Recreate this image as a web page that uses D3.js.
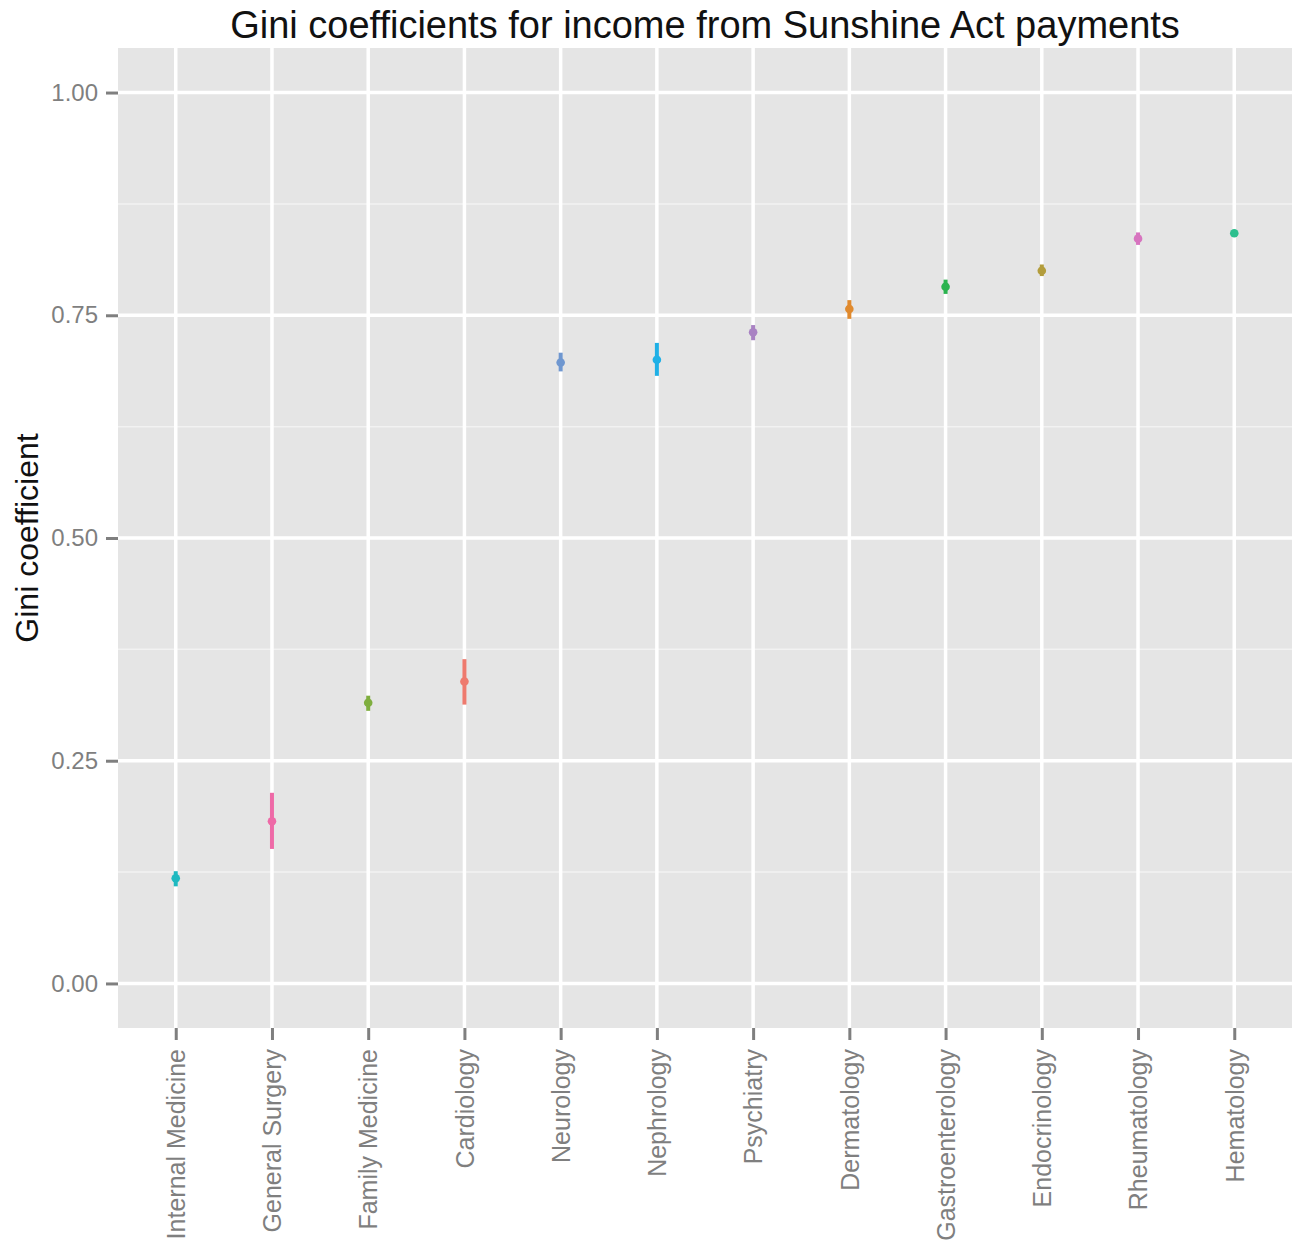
<!DOCTYPE html>
<html>
<head>
<meta charset="utf-8">
<script src="https://cdn.jsdelivr.net/npm/d3@7"></script>
<style>
  body { margin: 0; background: #fff; }
  text { font-family: "Liberation Sans", Arial, sans-serif; }
</style>
</head>
<body>
<div id="chart"></div>
<script>
// specialties in plotted order, with gini estimate and interval ends
var specialties = ["Internal Medicine", "General Surgery", "Family Medicine", "Cardiology",
                   "Neurology", "Nephrology", "Psychiatry", "Dermatology",
                   "Gastroenterology", "Endocrinology", "Rheumatology", "Hematology"];
var gini  = [0.118, 0.182, 0.315, 0.339, 0.697, 0.700, 0.731, 0.757, 0.782, 0.800, 0.836, 0.842];
var lower = [0.109, 0.151, 0.306, 0.313, 0.687, 0.682, 0.722, 0.746, 0.774, 0.794, 0.829, 0.840];
var upper = [0.126, 0.214, 0.323, 0.364, 0.708, 0.719, 0.739, 0.767, 0.790, 0.807, 0.843, 0.844];
var colors = ["#1EB9C0", "#EE6AA7", "#7FAE3F", "#EE7A6E", "#6F97D0", "#1FB0E6",
              "#A982C3", "#E08A2E", "#2BB34F", "#B39D3C", "#D774BF", "#2DBF8E"];
var yTicks = [0, 0.25, 0.5, 0.75, 1];
var yMinor = [0.125, 0.375, 0.625, 0.875];

var W = 1295, H = 1247,
    margin = { top: 48, right: 3, bottom: 219, left: 118 },
    width = W - margin.left - margin.right,
    height = H - margin.top - margin.bottom;

var rows = specialties.map(function (s, i) {
    return { name: s, g: gini[i], lo: lower[i], hi: upper[i], col: colors[i] };
});

var x = d3.scalePoint().domain(specialties).range([0, width]).padding(0.6);
var y = d3.scaleLinear().domain([-0.05, 1.05]).range([height, 0]);

var svg = d3.select("#chart").append("svg")
    .attr("width", W)
    .attr("height", H);

svg.append("text")
    .attr("x", margin.left + width / 2)
    .attr("y", 38)
    .attr("text-anchor", "middle")
    .style("font-size", "38px")
    .style("fill", "#111")
    .text("Gini coefficients for income from Sunshine Act payments");

var g = svg.append("g")
    .attr("transform", "translate(" + margin.left + "," + margin.top + ")");

// panel
g.append("rect")
    .attr("width", width)
    .attr("height", height)
    .attr("fill", "#E5E5E5");

// minor grid
g.selectAll(".minor").data(yMinor).enter().append("line")
    .attr("x1", 0).attr("x2", width)
    .attr("y1", function (d) { return y(d); })
    .attr("y2", function (d) { return y(d); })
    .attr("stroke", "#F2F2F2")
    .attr("stroke-width", 1.5);

// major grid
g.selectAll(".hmajor").data(yTicks).enter().append("line")
    .attr("x1", 0).attr("x2", width)
    .attr("y1", function (d) { return y(d); })
    .attr("y2", function (d) { return y(d); })
    .attr("stroke", "#fff")
    .attr("stroke-width", 3.5);

g.selectAll(".vmajor").data(specialties).enter().append("line")
    .attr("y1", 0).attr("y2", height)
    .attr("x1", function (d) { return x(d); })
    .attr("x2", function (d) { return x(d); })
    .attr("stroke", "#fff")
    .attr("stroke-width", 3.5);

// y axis
var yAxis = g.append("g")
    .call(d3.axisLeft(y).tickValues(yTicks).tickFormat(d3.format(".2f")).tickSize(12).tickPadding(8));
yAxis.select(".domain").remove();
yAxis.selectAll(".tick line").attr("stroke", "#7F7F7F").attr("stroke-width", 3);
yAxis.selectAll(".tick text")
    .attr("fill", "#7F7F7F")
    .style("font-size", "24px")
    .style("font-family", "'Liberation Sans', Arial, sans-serif");

// x axis
var xAxis = g.append("g")
    .attr("transform", "translate(0," + height + ")")
    .call(d3.axisBottom(x).tickSize(12).tickPadding(8));
xAxis.select(".domain").remove();
xAxis.selectAll(".tick line").attr("stroke", "#7F7F7F").attr("stroke-width", 3);
xAxis.selectAll(".tick text")
    .attr("fill", "#7F7F7F")
    .style("font-size", "25px")
    .style("font-family", "'Liberation Sans', Arial, sans-serif")
    .attr("text-anchor", "end")
    .attr("dy", "0.35em")
    .attr("transform", "translate(0,21) rotate(-90)")
    .attr("x", 0)
    .attr("y", 0);

// y title
svg.append("text")
    .attr("transform", "translate(38," + (margin.top + height / 2) + ") rotate(-90)")
    .attr("text-anchor", "middle")
    .style("font-size", "32px")
    .style("fill", "#111")
    .text("Gini coefficient");

// error bars
g.selectAll(".bar").data(rows).enter().append("line")
    .attr("x1", function (d) { return x(d.name); })
    .attr("x2", function (d) { return x(d.name); })
    .attr("y1", function (d) { return y(d.lo); })
    .attr("y2", function (d) { return y(d.hi); })
    .attr("stroke", function (d) { return d.col; })
    .attr("stroke-width", 4);

// points
g.selectAll(".pt").data(rows).enter().append("circle")
    .attr("cx", function (d) { return x(d.name); })
    .attr("cy", function (d) { return y(d.g); })
    .attr("r", 4.3)
    .attr("fill", function (d) { return d.col; });
</script>
</body>
</html>
